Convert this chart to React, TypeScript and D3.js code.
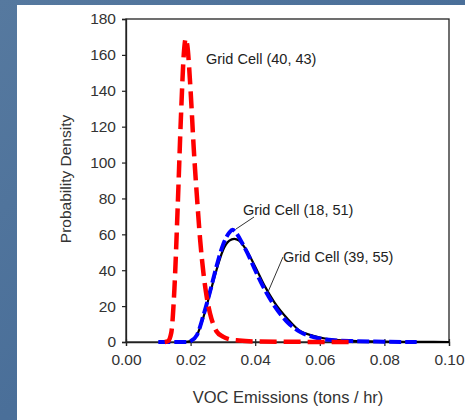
import React, { useEffect, useRef } from 'react'
import * as d3 from 'd3'

// x values (tons / hr) and density
const redX = [0.012, 0.013, 0.014, 0.015, 0.016, 0.017, 0.018, 0.0185, 0.019, 0.020, 0.021, 0.022, 0.023, 0.024, 0.025, 0.026, 0.027, 0.028, 0.030, 0.032, 0.035, 0.040, 0.050, 0.060, 0.070]
const redY = [0, 0.5, 5, 30, 75, 125, 163, 169, 165, 140, 107, 80, 56, 38, 25, 16, 10, 6, 3, 1.5, 0.8, 0.3, 0.1, 0.05, 0]

const blueX = [0.010, 0.019, 0.020, 0.022, 0.024, 0.026, 0.028, 0.030, 0.032, 0.033, 0.034, 0.036, 0.038, 0.040, 0.043, 0.046, 0.050, 0.054, 0.058, 0.062, 0.070, 0.080, 0.090]
const blueY = [0, 0, 0.5, 4, 15, 28, 42, 54, 61, 62.5, 61, 55, 48, 40, 29, 20, 11, 5.5, 2.8, 1.4, 0.5, 0.15, 0]

const blackX = [0.018, 0.020, 0.022, 0.024, 0.026, 0.028, 0.030, 0.032, 0.0335, 0.035, 0.037, 0.040, 0.043, 0.046, 0.050, 0.054, 0.058, 0.062, 0.066, 0.070, 0.080, 0.090, 0.100]
const blackY = [0, 0.5, 4, 14, 27, 40, 51, 56.5, 57.5, 56.5, 52, 42, 31, 22, 13, 6, 3.5, 1.8, 1, 0.6, 0.2, 0.05, 0]

const xTicks = [0, 0.02, 0.04, 0.06, 0.08, 0.10]
const yTicks = [0, 20, 40, 60, 80, 100, 120, 140, 160, 180]

const W = 465
const H = 420

export default function App() {
  const ref = useRef<SVGSVGElement>(null)

  useEffect(() => {
    const svg = d3.select(ref.current)
    svg.selectAll('*').remove()

    // slide background + white panel
    const defs = svg.append('defs')
    const grad = defs.append('linearGradient').attr('id', 'bg').attr('x1', 0).attr('y1', 0).attr('x2', 1).attr('y2', 1)
    grad.append('stop').attr('offset', '0%').attr('stop-color', '#56799f')
    grad.append('stop').attr('offset', '50%').attr('stop-color', '#4a6f99')
    grad.append('stop').attr('offset', '100%').attr('stop-color', '#52779f')
    svg.append('rect').attr('width', W).attr('height', H).attr('fill', 'url(#bg)')
    svg.append('rect').attr('x', 17).attr('y', 5).attr('width', W - 17).attr('height', H - 5).attr('fill', '#fff')

    const left = 126, right = 449, top = 19, bottom = 342
    const x = d3.scaleLinear().domain([0, 0.1]).range([left, right])
    const y = d3.scaleLinear().domain([0, 180]).range([bottom, top])
    const font = 'Liberation Sans, Arial, sans-serif'

    // frame
    svg.append('rect').attr('x', left).attr('y', top).attr('width', right - left).attr('height', bottom - top)
      .attr('fill', 'none').attr('stroke', '#222').attr('stroke-width', 1.3)

    const yAxis = svg.append('g').attr('transform', `translate(${left},0)`)
      .call(d3.axisLeft(y).tickValues(yTicks).tickSize(4).tickPadding(6).tickFormat(d3.format('d')))
    const xAxis = svg.append('g').attr('transform', `translate(0,${bottom})`)
      .call(d3.axisBottom(x).tickValues(xTicks).tickSize(4).tickPadding(8).tickFormat(d3.format('.2f')))
    for (const ax of [xAxis, yAxis]) {
      ax.select('.domain').attr('stroke', '#222').attr('stroke-width', 1.3)
      ax.selectAll('line').attr('stroke', '#222').attr('stroke-width', 1.2)
      ax.selectAll('text').attr('font-family', font).attr('font-size', 15.5).attr('fill', '#333')
    }
    // x ticks cross the axis a little
    xAxis.selectAll('.tick line').attr('y1', -3)

    const line = d3.line<[number, number]>().x(d => x(d[0])).y(d => y(d[1])).curve(d3.curveMonotoneX)
    const pts = (xs: number[], ys: number[]) => xs.map((v, i) => [v, ys[i]] as [number, number])

    svg.append('path').datum(pts(blackX, blackY)).attr('d', line).attr('fill', 'none')
      .attr('stroke', '#000').attr('stroke-width', 2.2)
    svg.append('path').datum(pts(blueX, blueY)).attr('d', line).attr('fill', 'none')
      .attr('stroke', '#0000ff').attr('stroke-width', 4).attr('stroke-dasharray', '12,4')
    svg.append('path').datum(pts(redX, redY)).attr('d', line).attr('fill', 'none')
      .attr('stroke', '#ff0000').attr('stroke-width', 4.5).attr('stroke-dasharray', '17,7')

    // annotations
    const note = (tx: number, ty: number, s: string) =>
      svg.append('text').attr('x', tx).attr('y', ty).attr('font-family', font).attr('font-size', 14.5)
        .attr('fill', '#222').text(s)
    note(206, 64, 'Grid Cell (40, 43)')
    note(243, 215, 'Grid Cell (18, 51)')
    note(283, 262, 'Grid Cell (39, 55)')
    svg.append('line').attr('x1', 254).attr('y1', 217).attr('x2', 236).attr('y2', 229).attr('stroke', '#333').attr('stroke-width', 1)
    svg.append('line').attr('x1', 283).attr('y1', 257).attr('x2', 268).attr('y2', 292).attr('stroke', '#333').attr('stroke-width', 1)

    // axis titles
    svg.append('text').attr('x', 288).attr('y', 403).attr('text-anchor', 'middle')
      .attr('font-family', font).attr('font-size', 16.5).attr('fill', '#333').text('VOC Emissions (tons / hr)')
    svg.append('text').attr('transform', 'translate(71,179) rotate(-90)').attr('text-anchor', 'middle')
      .attr('font-family', font).attr('font-size', 15.5).attr('fill', '#333').text('Probability Density')
  }, [])

  return (
    <svg ref={ref} width={W} height={H} style={{ position: 'absolute', left: 0, top: 0, display: 'block' }} />
  )
}
